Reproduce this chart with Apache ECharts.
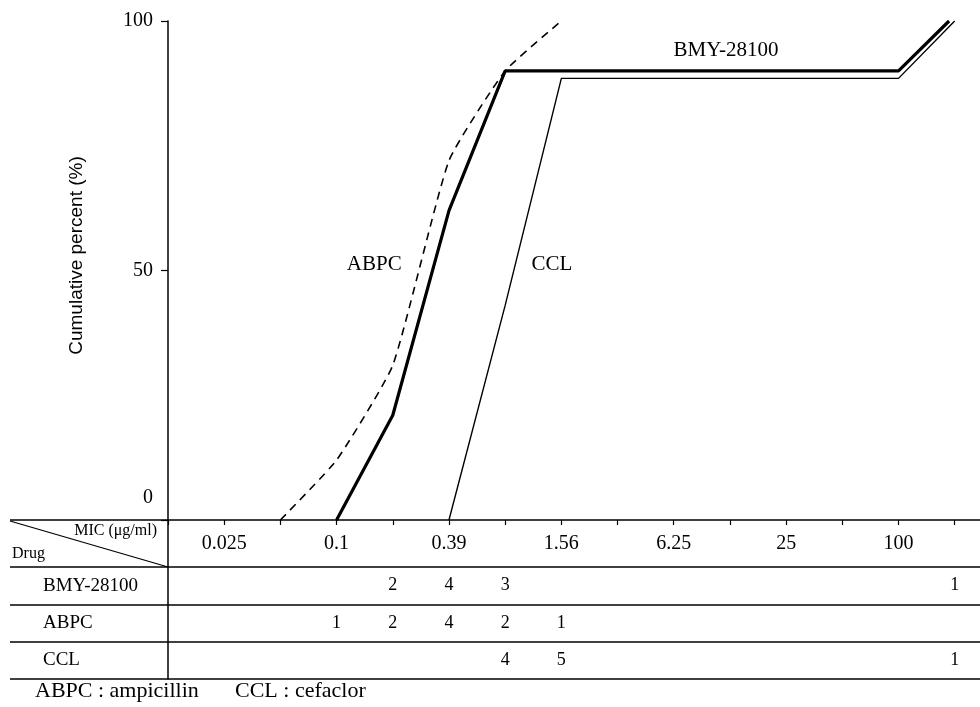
<!DOCTYPE html>
<html>
<head>
<meta charset="utf-8">
<script src="https://cdn.jsdelivr.net/npm/echarts@6/dist/echarts.min.js"></script>
<style>
  html, body { margin: 0; padding: 0; background: #fff; }
  #main { width: 980px; height: 707px; }
</style>
</head>
<body>
<div id="main"></div>
<script>
// MIC steps (µg/ml), one per tick; only every other one is labelled
var micSteps = ['0.025', '0.05', '0.1', '0.2', '0.39', '0.78', '1.56', '3.13', '6.25', '12.5', '25', '50', '100', '>100']
var yTicks = [0, 50, 100]

// cumulative percent curves, x = index into micSteps
var bmyX = [2, 3, 4, 5, 12, 12.9]
var bmyY = [0, 21, 62, 90, 90, 100]
var abpcX = [1, 2, 3, 4, 5, 6]
var abpcY = [0, 12, 31, 72, 90, 100]
var cclX = [4, 5, 6, 12, 13]
var cclY = [0, 43, 88.5, 88.5, 100]

// number of strains per MIC step (table under the chart)
var drugs = ['BMY-28100', 'ABPC', 'CCL']
var bmyCounts = ['', '', '', 2, 4, 3, '', '', '', '', '', '', '', 1]
var abpcCounts = ['', '', 1, 2, 4, 2, 1, '', '', '', '', '', '', '']
var cclCounts = ['', '', '', '', '', 4, 5, '', '', '', '', '', '', 1]

// curve names written next to the lines
var curveLabels = [
  { name: 'ABPC', x: 2.67, y: 51.3 },
  { name: 'CCL', x: 5.83, y: 51.3 },
  { name: 'BMY-28100', x: 8.93, y: 94.1 }
]

var serif = 'Liberation Serif'
var plotLeft = 168
var tableLeft = 10
var xMin = -1
var xMax = 13.45
var unit = (980 - plotLeft) / (xMax - xMin)

function pairs(xs, ys) {
  return xs.map(function (x, i) { return [x, ys[i]] })
}

function tableCells() {
  var out = []
  var all = [bmyCounts, abpcCounts, cclCounts]
  all.forEach(function (counts, r) {
    counts.forEach(function (c, i) {
      if (c !== '') out.push([i, drugs[r], c])
    })
  })
  return out
}

var plainLabel = {
  show: true,
  position: 'inside',
  color: '#000',
  fontFamily: serif,
  textBorderWidth: 0,
  textBorderColor: 'transparent',
  formatter: function (p) { return p.value[2] }
}

var chart = echarts.init(document.getElementById('main'))

var option = {
  animation: false,
  grid: [
    { left: plotLeft, right: 0, top: 21, bottom: 187 },
    { left: tableLeft, right: 0, top: 567, height: 112 }
  ],
  xAxis: [
    {
      type: 'value',
      gridIndex: 0,
      min: xMin,
      max: xMax,
      interval: 1,
      splitLine: { show: false },
      axisLine: { onZero: false, lineStyle: { color: '#000', width: 1.5 } },
      axisTick: { length: 5, lineStyle: { color: '#000', width: 1.2 } },
      axisLabel: {
        margin: 14,
        color: '#000',
        fontFamily: serif,
        fontSize: 20,
        showMaxLabel: false,
        formatter: function (v) {
          if (v < 0 || v % 2 !== 0) return ''
          return micSteps[v] || ''
        }
      }
    },
    {
      type: 'value',
      gridIndex: 1,
      min: xMin - (plotLeft - tableLeft) / unit,
      max: xMax,
      show: false
    }
  ],
  yAxis: [
    {
      type: 'value',
      gridIndex: 0,
      min: 0,
      max: 100,
      interval: 50,
      name: 'Cumulative percent (%)',
      nameLocation: 'middle',
      nameGap: 82,
      nameTextStyle: { color: '#000', fontFamily: 'Liberation Sans', fontSize: 19, padding: [0, 0, 0, 30] },
      splitLine: { show: false },
      axisLine: { show: true, onZero: false, lineStyle: { color: '#000', width: 1.5 } },
      axisTick: { length: 7, lineStyle: { color: '#000', width: 1.2 } },
      axisLabel: {
        margin: 15,
        color: '#000',
        fontFamily: serif,
        fontSize: 20,
        formatter: function (v) {
          return v === 0 ? '{z|0}' : String(v)
        },
        rich: {
          z: { fontFamily: serif, fontSize: 20, color: '#000', padding: [0, 0, 44, 0] }
        }
      }
    },
    {
      type: 'category',
      gridIndex: 1,
      data: drugs,
      inverse: true,
      offset: -(plotLeft - tableLeft),
      axisLine: { onZero: false, lineStyle: { color: '#000', width: 1.5 } },
      axisTick: { show: false },
      splitLine: { show: true, lineStyle: { color: '#000', width: 1.5 } },
      axisLabel: {
        align: 'left',
        margin: 125,
        color: '#000',
        fontFamily: serif,
        fontSize: 19
      }
    }
  ],
  series: [
    {
      name: 'BMY-28100',
      type: 'line',
      xAxisIndex: 0,
      yAxisIndex: 0,
      symbol: 'none',
      lineStyle: { color: '#000', width: 3.2 },
      data: pairs(bmyX, bmyY)
    },
    {
      name: 'ABPC',
      type: 'line',
      xAxisIndex: 0,
      yAxisIndex: 0,
      symbol: 'none',
      smooth: 0.15,
      lineStyle: { color: '#000', width: 1.6, type: [8, 6] },
      data: pairs(abpcX, abpcY)
    },
    {
      name: 'CCL',
      type: 'line',
      xAxisIndex: 0,
      yAxisIndex: 0,
      symbol: 'none',
      lineStyle: { color: '#000', width: 1.4 },
      data: pairs(cclX, cclY)
    },
    {
      name: 'curve names',
      type: 'scatter',
      xAxisIndex: 0,
      yAxisIndex: 0,
      symbolSize: 0,
      silent: true,
      itemStyle: { color: '#000', opacity: 1 },
      label: Object.assign({}, plainLabel, { fontSize: 21 }),
      data: curveLabels.map(function (l) { return [l.x, l.y, l.name] })
    },
    {
      name: 'strain counts',
      type: 'scatter',
      xAxisIndex: 1,
      yAxisIndex: 1,
      symbolSize: 0,
      silent: true,
      itemStyle: { color: '#000', opacity: 1 },
      label: Object.assign({}, plainLabel, { fontSize: 18 }),
      data: tableCells()
    }
  ],
  graphic: [
    // left part of the table head
    { type: 'line', shape: { x1: tableLeft, y1: 520, x2: plotLeft, y2: 520 }, style: { stroke: '#000', lineWidth: 1.5 } },
    { type: 'line', shape: { x1: plotLeft, y1: 520, x2: plotLeft, y2: 567 }, style: { stroke: '#000', lineWidth: 1.5 } },
    { type: 'line', shape: { x1: tableLeft, y1: 521, x2: plotLeft, y2: 567 }, style: { stroke: '#000', lineWidth: 1.3 } },
    {
      type: 'text', x: 157, y: 531,
      style: { text: 'MIC (μg/ml)', fill: '#000', font: '16px "Liberation Serif"', textAlign: 'right', textVerticalAlign: 'middle' }
    },
    {
      type: 'text', x: 12, y: 554,
      style: { text: 'Drug', fill: '#000', font: '16px "Liberation Serif"', textAlign: 'left', textVerticalAlign: 'middle' }
    },
    {
      type: 'text', x: 35, y: 691,
      style: { text: 'ABPC : ampicillin', fill: '#000', font: '22px "Liberation Serif"', textAlign: 'left', textVerticalAlign: 'middle' }
    },
    {
      type: 'text', x: 235, y: 691,
      style: { text: 'CCL : cefaclor', fill: '#000', font: '22px "Liberation Serif"', textAlign: 'left', textVerticalAlign: 'middle' }
    }
  ]
}

chart.setOption(option)
</script>
</body>
</html>
